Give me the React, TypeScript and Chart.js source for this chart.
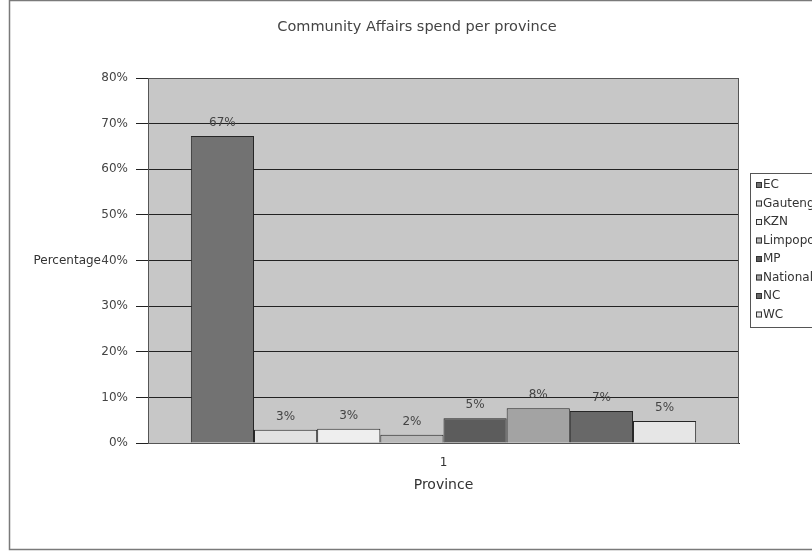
import React, { useEffect, useRef } from "react";
import { Chart, registerables } from "chart.js";

Chart.register(...registerables);

const titleText = "Community Affairs spend per province";
const categories = ["1"];
const provinces = ["EC", "Gauteng", "KZN", "Limpopo", "MP", "National", "NC", "WC"];
const spendPct = [67.3, 2.9, 3.1, 1.8, 5.4, 7.6, 7.0, 4.8];
const yMin = 0;
const yMax = 80;
const yStep = 10;
const yAxisTitle = "Percentage";
const xAxisTitle = "Province";

const barColors = ["#727272", "#e2e2e2", "#eeeeee", "#b9b9b9", "#5c5c5c", "#a3a3a3", "#686868", "#e6e6e6"];

const FONT = "'DejaVu Sans', 'Liberation Sans', Arial, sans-serif";

const decorPlugin = {
  id: "decor",
  beforeDraw(chart: any) {
    const { ctx, chartArea } = chart;
    ctx.save();
    ctx.fillStyle = "#ffffff";
    ctx.fillRect(0, 0, chart.width, chart.height);
    ctx.strokeStyle = "#7a7a7a";
    ctx.lineWidth = 1.5;
    ctx.strokeRect(9.5, 0.5, chart.width + 20, 549);
    ctx.fillStyle = "#c7c7c7";
    ctx.fillRect(chartArea.left, chartArea.top, chartArea.right - chartArea.left, chartArea.bottom - chartArea.top);
    ctx.restore();
  },
  afterDatasetsDraw(chart: any) {
    const { ctx, chartArea } = chart;
    ctx.save();
    ctx.strokeStyle = "#555555";
    ctx.lineWidth = 1;
    ctx.strokeRect(chartArea.left + 0.5, chartArea.top + 0.5, chartArea.right - chartArea.left - 1, chartArea.bottom - chartArea.top);
    ctx.font = `12px ${FONT}`;
    ctx.fillStyle = "#444444";
    ctx.textAlign = "center";
    ctx.textBaseline = "middle";
    chart.data.datasets.forEach((ds: any, i: number) => {
      const meta = chart.getDatasetMeta(i);
      meta.data.forEach((el: any, j: number) => {
        const v = ds.data[j];
        ctx.fillText(`${Math.round(v)}%`, el.x, el.y - 13);
      });
    });
    ctx.restore();
  },
  afterDraw(chart: any) {
    const { ctx } = chart;
    const y = chart.scales.y;
    ctx.save();
    ctx.font = `12px ${FONT}`;
    ctx.fillStyle = "#333333";
    ctx.textAlign = "right";
    ctx.textBaseline = "middle";
    ctx.fillText(yAxisTitle, 101, y.getPixelForValue(40));

    // legend
    const lx = 750;
    const ly = 173;
    const rowH = 18.5;
    const n = chart.data.datasets.length;
    ctx.strokeStyle = "#555555";
    ctx.lineWidth = 1;
    ctx.strokeRect(lx + 0.5, ly + 0.5, 100, n * rowH + 6);
    chart.data.datasets.forEach((ds: any, i: number) => {
      const cy = ly + 12 + i * rowH;
      ctx.fillStyle = ds.backgroundColor;
      ctx.fillRect(lx + 6, cy - 3, 6, 6);
      ctx.strokeStyle = "#333333";
      ctx.strokeRect(lx + 6.5, cy - 2.5, 5, 5);
      ctx.fillStyle = "#333333";
      ctx.textAlign = "left";
      ctx.fillText(ds.label, lx + 13, cy);
    });
    ctx.restore();
  },
};

export default function App() {
  const ref = useRef<HTMLCanvasElement | null>(null);
  useEffect(() => {
    if (!ref.current) return;
    const chart = new Chart(ref.current, {
      type: "bar",
      data: {
        labels: categories,
        datasets: provinces.map((p, i) => ({
          label: p,
          data: [spendPct[i]],
          backgroundColor: barColors[i],
          borderColor: "#262626",
          borderWidth: 1,
          categoryPercentage: 0.855,
          barPercentage: 1,
        })),
      },
      options: {
        animation: false,
        responsive: false,
        devicePixelRatio: 1,
        layout: { padding: { left: 95, right: 73, top: 0, bottom: 57.6 } },
        plugins: {
          legend: { display: false },
          tooltip: { enabled: false },
          title: {
            display: true,
            text: titleText,
            color: "#444444",
            font: { family: FONT, size: 14.5, weight: "normal" },
            padding: { top: 19, bottom: 41.6 },
          },
        },
        scales: {
          x: {
            grid: { display: false, drawTicks: false },
            border: { display: true, color: "#222222" },
            ticks: { color: "#333333", font: { family: FONT, size: 12 }, padding: 13 },
            title: {
              display: true,
              text: xAxisTitle,
              color: "#333333",
              font: { family: FONT, size: 14 },
              padding: { top: 0, bottom: 0 },
            },
            afterFit: (s: any) => {
              s.height = 50.4;
            },
          },
          y: {
            min: yMin,
            max: yMax,
            ticks: {
              stepSize: yStep,
              color: "#444444",
              font: { family: FONT, size: 12 },
              padding: 8,
              callback: (v: any) => `${v}%`,
            },
            grid: { color: "#222222", lineWidth: 1, tickLength: 12, drawTicks: true },
            border: { display: true, color: "#222222" },
            afterFit: (s: any) => {
              s.width = 53;
            },
          },
        },
      },
      plugins: [decorPlugin],
    } as any);
    return () => chart.destroy();
  }, []);
  return (
    <div style={{ position: "absolute", left: 0, top: 0, width: 812, height: 551 }}>
      <canvas ref={ref} width={812} height={551} style={{ display: "block", width: 812, height: 551 }} />
    </div>
  );
}
